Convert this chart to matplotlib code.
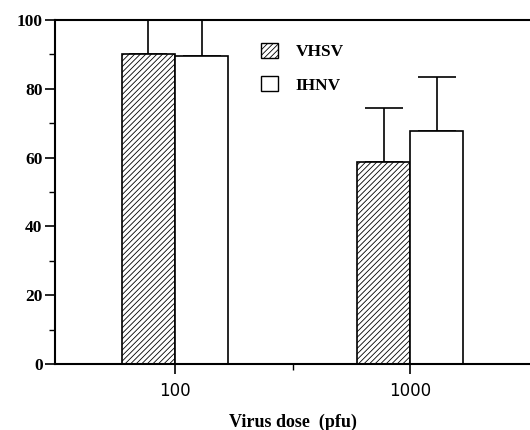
import matplotlib
matplotlib.use("Agg")
import matplotlib.pyplot as plt
import numpy as np
from matplotlib.patches import Patch
from matplotlib.ticker import MultipleLocator, FixedLocator

doses = ["100", "1000"]
vhsv = [90.0, 58.8]
vhsv_err = [25.0, 15.7]
ihnv = [89.4, 67.8]
ihnv_err = [25.0, 15.7]

plt.rcParams["hatch.linewidth"] = 0.6

fig = plt.figure(figsize=(5.3, 4.3), dpi=100)
ax = fig.add_axes([0.104, 0.1535, 0.896, 0.80])

x = np.arange(len(doses))
w = 0.226
ax.bar(x - w / 2, vhsv, w, color="white", edgecolor="black", hatch="//////",
       linewidth=1.2, label="VHSV", zorder=2)
ax.bar(x + w / 2, ihnv, w, color="white", edgecolor="black",
       linewidth=1.2, label="IHNV", zorder=2)
ax.errorbar(x - w / 2, vhsv, yerr=[np.zeros(2), vhsv_err], fmt="none",
            ecolor="black", elinewidth=1.2, capsize=14, capthick=1.2, zorder=1)
ax.errorbar(x + w / 2, ihnv, yerr=[np.zeros(2), ihnv_err], fmt="none",
            ecolor="black", elinewidth=1.2, capsize=14, capthick=1.2, zorder=1)

ax.set_xlim(-0.51, 1.51)
ax.set_ylim(0, 100)
ax.set_xticks(x)
ax.set_xticklabels(doses, fontfamily="DejaVu Sans", fontsize=12)
ax.xaxis.set_minor_locator(FixedLocator([0.5]))
ax.yaxis.set_major_locator(MultipleLocator(20))
ax.yaxis.set_minor_locator(MultipleLocator(10))
for lab in ax.get_yticklabels():
    lab.set_fontfamily("Liberation Serif")
    lab.set_fontweight("bold")
    lab.set_fontsize(12.5)

ax.spines["right"].set_visible(False)
for s in ["left", "bottom", "top"]:
    ax.spines[s].set_linewidth(1.5)
ax.tick_params(axis="both", which="major", length=7, width=1.2, direction="out")
ax.tick_params(axis="both", which="minor", length=4, width=1.0, direction="out")
ax.tick_params(axis="y", pad=2)
ax.tick_params(axis="x", pad=6)

ax.set_xlabel("Virus dose  (pfu)", fontfamily="Liberation Serif", fontweight="bold",
              fontsize=13, labelpad=10)

handles = [Patch(facecolor="white", edgecolor="black", hatch="//////", label="VHSV"),
           Patch(facecolor="white", edgecolor="black", label="IHNV")]
ax.legend(handles=handles, loc="upper left", bbox_to_anchor=(0.40, 0.98), frameon=False,
          prop={"family": "Liberation Serif", "weight": "bold", "size": 12.5},
          handlelength=1.0, handleheight=1.0, handletextpad=1.0, labelspacing=0.9)

fig.savefig("out.png", dpi=100)
